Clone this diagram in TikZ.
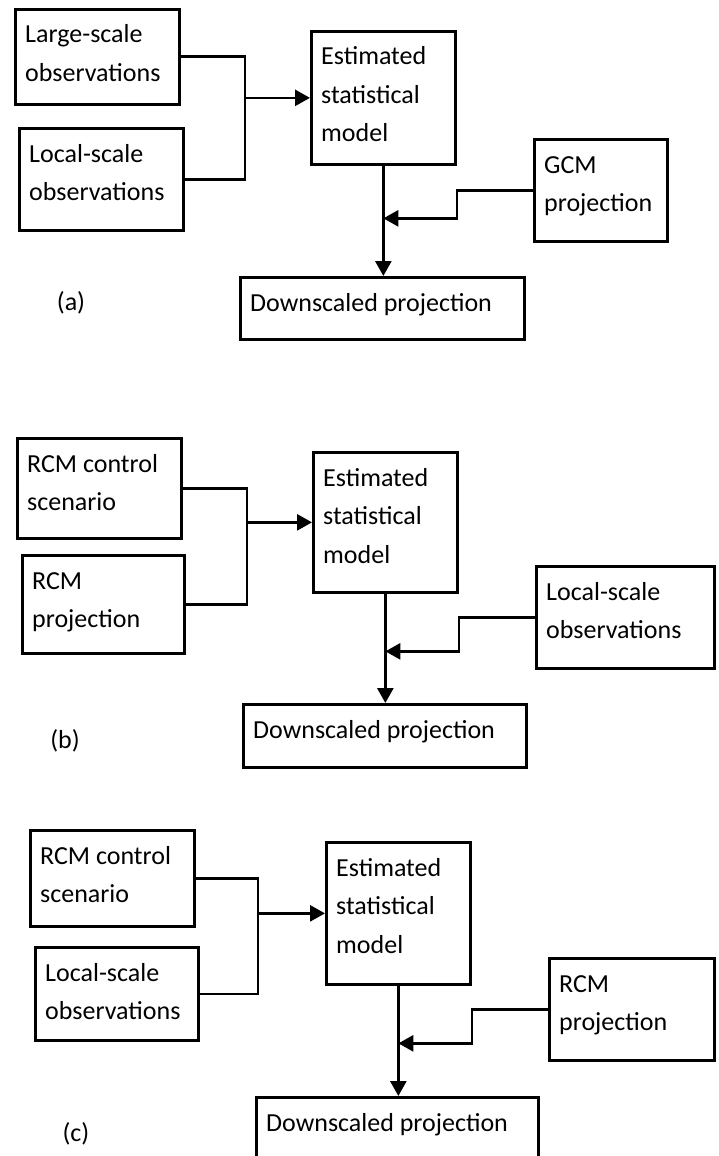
\documentclass[tikz,border=0pt]{standalone}
\usepackage{fontspec}
\setmainfont{Carlito}
\usetikzlibrary{arrows.meta,calc}
\newcommand\bx[6]{%
  \node[box, minimum width=#4pt, minimum height=#5pt] (#1) at (#2,#3) {};
  \node[txt] (#1t) at ($(#1.north west)+(11,35)$) {\parbox[t]{300pt}{\raggedright #6}};}
\begin{document}
\begin{tikzpicture}[x=1pt,y=-1pt,
  box/.style={draw, line width=2.7pt, anchor=north west, inner sep=0pt},
  txt/.style={anchor=base west, inner sep=0pt, font=\fontsize{26}{38.5}\selectfont},
  link/.style={line width=2.7pt},
  arr/.style={line width=2.7pt, -{Triangle[length=15pt,width=16pt]}},
  lab/.style={font=\fontsize{26}{38.5}\selectfont, inner sep=0pt}]
\useasboundingbox (0,0) rectangle (719,1156);

% ---------- panel (a)
\bx{A1}{14}{8}{164}{95}{Large-scale\\observations}
\bx{A2}{18}{127}{164}{102}{Local-scale\\observations}
\bx{E1}{310}{30}{144}{133}{Estimated\\statistical\\model}
\bx{G1}{533}{138}{133}{102}{GCM\\projection}
\bx{D1}{239}{276}{284}{62}{Downscaled projection}
\node[lab] (La) at (71,303) {(a)};
\coordinate (J1) at ($(E1.west)+(-65,0)$);
\draw[link] (A1.east) -| (J1);
\draw[link] (A2.east) -| (J1);
\draw[arr] (J1) -- (E1.west);
\draw[arr] (E1.south) -- (E1.south |- D1.north);
\coordinate (K1) at ($(G1.west)+(-76,28)$);
\draw[arr] (G1.west) -| (K1) -- (K1 -| E1.south);

% ---------- panel (b)
\bx{B1}{16}{437}{164}{100}{RCM control\\scenario}
\bx{B2}{21}{554}{162}{98}{RCM\\projection}
\bx{E2}{312}{451}{144}{140}{Estimated\\statistical\\model}
\bx{L2}{535}{565}{178}{102}{Local-scale\\observations}
\bx{D2}{242}{703}{283}{63}{Downscaled projection}
\node[lab] (Lb) at (65,741) {(b)};
\coordinate (J2) at ($(E2.west)+(-65,0)$);
\draw[link] (B1.east) -| (J2);
\draw[link] (B2.east) -| (J2);
\draw[arr] (J2) -- (E2.west);
\draw[arr] (E2.south) -- (E2.south |- D2.north);
\coordinate (K2) at ($(L2.west)+(-76,34)$);
\draw[arr] (L2.west) -| (K2) -- (K2 -| E2.south);

% ---------- panel (c)
\bx{C1}{29}{829}{164}{96}{RCM control\\scenario}
\bx{C2}{34}{946}{163}{93}{Local-scale\\observations}
\bx{E3}{325}{841}{144}{142}{Estimated\\statistical\\model}
\bx{R3}{548}{957}{165}{102}{RCM\\projection}
\bx{D3}{255}{1096}{282}{62}{Downscaled projection}
\node[lab] (Lc) at (76,1134) {(c)};
\coordinate (J3) at ($(E3.west)+(-67,0)$);
\draw[link] (C1.east) -| (J3);
\draw[link] (C2.east) -| (J3);
\draw[arr] (J3) -- (E3.west);
\draw[arr] (E3.south) -- (E3.south |- D3.north);
\coordinate (K3) at ($(R3.west)+(-76,34)$);
\draw[arr] (R3.west) -| (K3) -- (K3 -| E3.south);
\end{tikzpicture}
\end{document}
